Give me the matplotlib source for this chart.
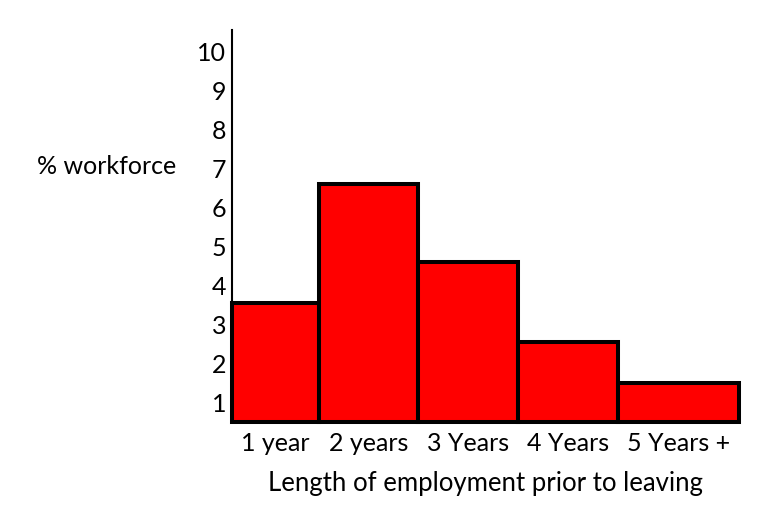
import numpy as np
import matplotlib.pyplot as plt

plt.rcParams['font.family'] = ['Lato', 'DejaVu Sans']

categories = ['1 year', '2 years', '3 Years', '4 Years', '5 Years +']
values = [3.55, 6.6, 4.6, 2.55, 1.5]
y_ticks = [1, 2, 3, 4, 5, 6, 7, 8, 9, 10]

# bars in the original are not all the same width
widths = np.array([0.87, 0.99, 1.0, 1.0, 1.21])
lefts = np.concatenate([[0], np.cumsum(widths)[:-1]])
base = 0.5

W, H = 772, 516
fig = plt.figure(figsize=(W / 100, H / 100), dpi=100)
ax = fig.add_axes([232 / W, (H - 422) / H, (739 - 232) / W, (422 - 30) / H])

ax.bar(lefts, np.array(values) - base, width=widths, bottom=base, align='edge',
       color='#ff0000', edgecolor='black', linewidth=2.9, clip_on=False)

ax.set_xlim(0, widths.sum())
ax.set_ylim(base, 10.56)
ax.set_yticks(y_ticks)
ax.set_xticks(lefts + widths / 2)
ax.set_xticklabels(categories)
ax.tick_params(length=0, labelsize=18)
ax.tick_params(axis='y', pad=4)
ax.tick_params(axis='x', pad=7)

for s in ['top', 'right', 'bottom']:
    ax.spines[s].set_visible(False)
ax.spines['left'].set_linewidth(1.5)

ax.set_xlabel('Length of employment prior to leaving', fontsize=18.5, labelpad=12)
ax.set_ylabel('% workforce', fontsize=18, rotation=0, ha='left', va='center')
ax.yaxis.set_label_coords((37 - 232) / 507, (422 - 166) / 392)

fig.savefig('out.png', dpi=100)
